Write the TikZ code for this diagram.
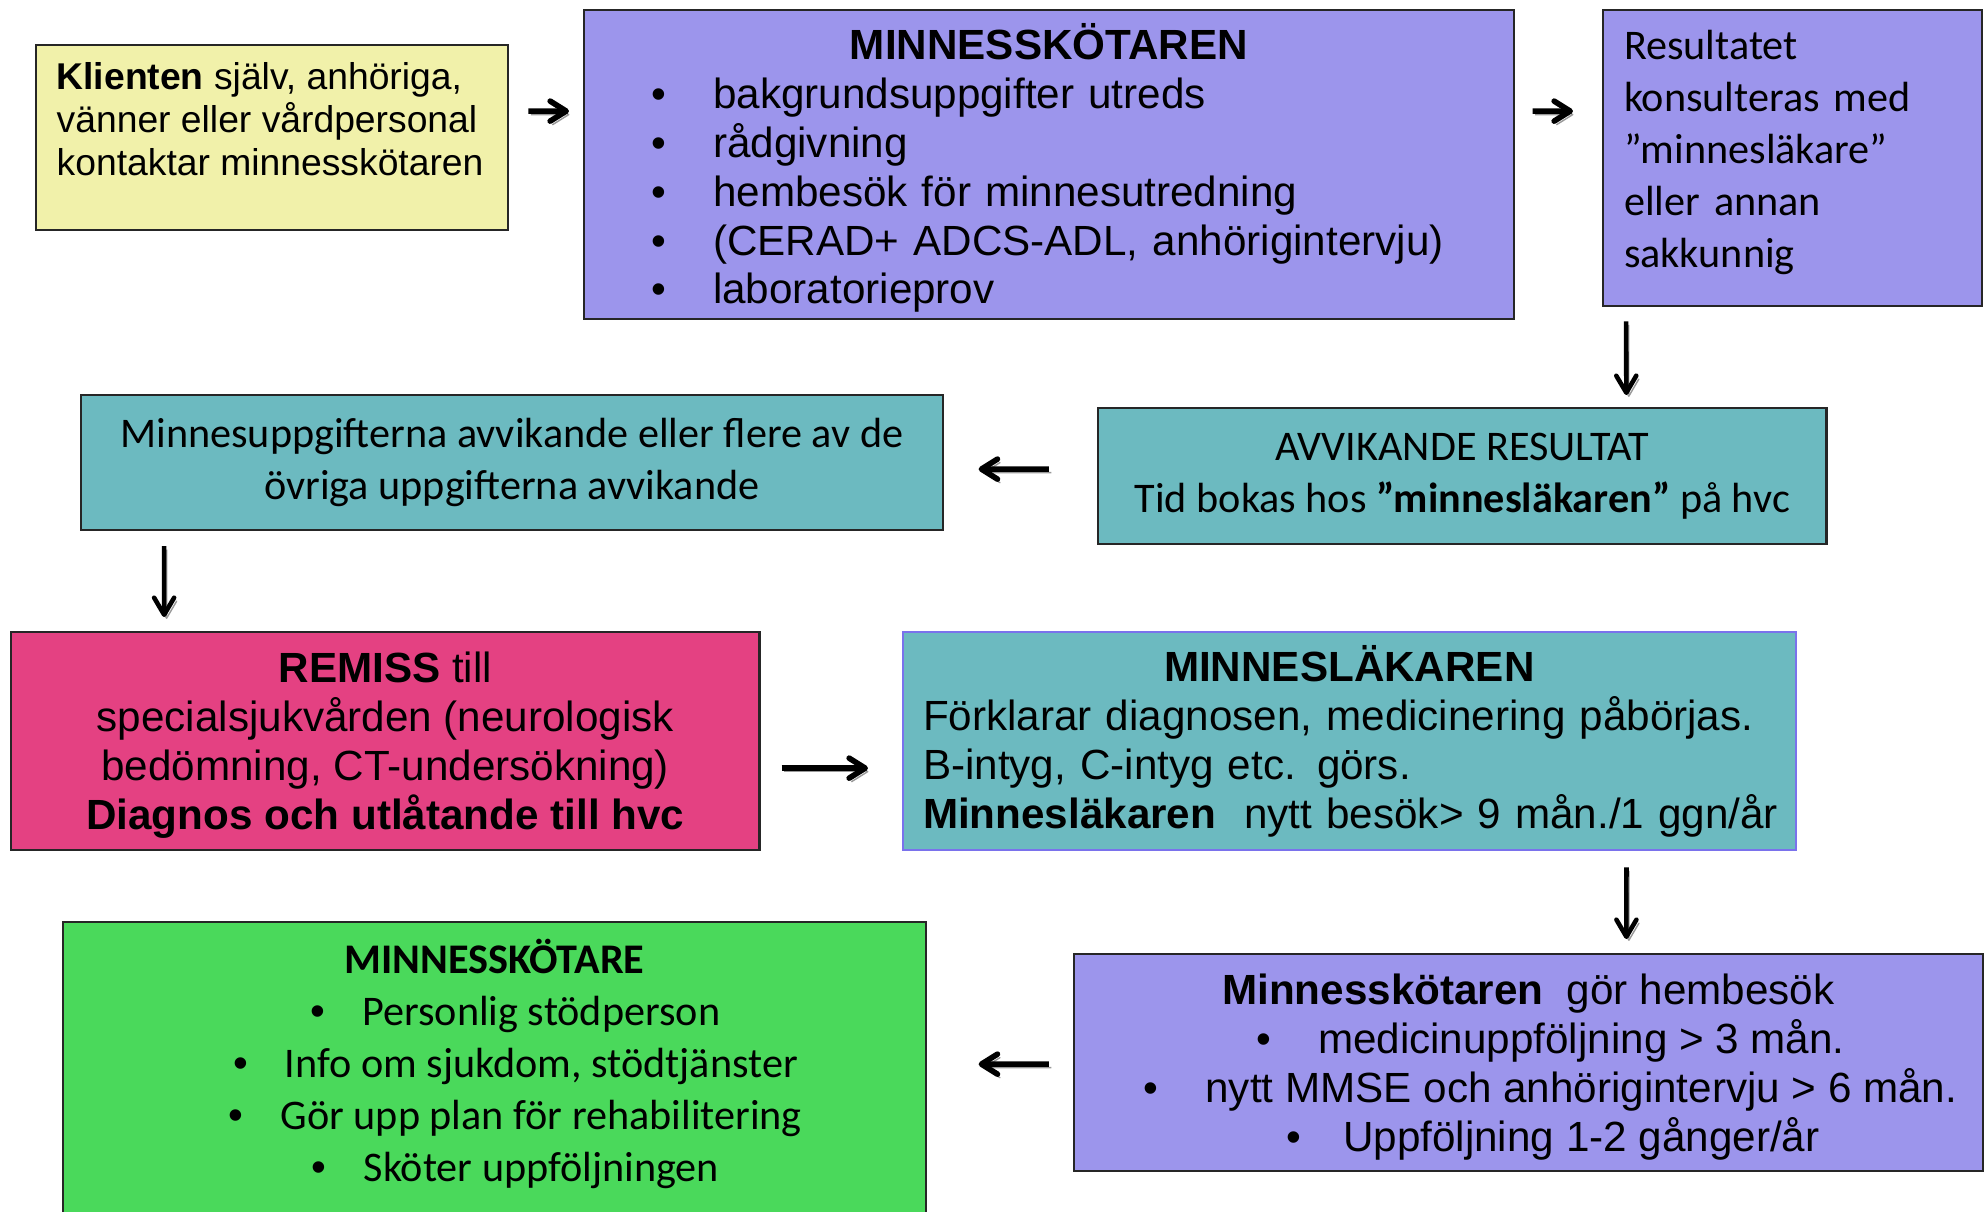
\documentclass[tikz,border=0pt]{standalone}
\usepackage{fontspec}
\setmainfont{Liberation Sans}
\newfontfamily\calibri{Carlito}
\usetikzlibrary{arrows.meta,calc}
\definecolor{MinnGul}{HTML}{F1F1AA}
\definecolor{MinnLila}{HTML}{9C95EC}
\definecolor{MinnTurkos}{HTML}{6CBAC0}
\definecolor{MinnRosa}{HTML}{E44182}
\definecolor{MinnGron}{HTML}{4AD95B}
\definecolor{MinnKant}{HTML}{7A72EC}
% bullet line: indent, bullet hung left of the text
\newcommand{\pkt}[3]{\hspace*{#1}\llap{{\rmfamily •}\hspace{#2}}\mbox{#3}}
% struts that move the text block of a box up or down
\newcommand{\topp}[1]{\rule{0pt}{#1}}
\newcommand{\botten}[1]{\rule[-#1]{0pt}{0pt}}

\begin{document}
\begin{tikzpicture}[x=0.01cm,y=-0.01cm,
    ruta/.style={draw=black!85,line width=0.6pt,anchor=north west,inner sep=0pt},
    arialtext/.style={font=\fontsize{12}{13.9}\selectfont},
    calibritext/.style={font=\calibri\fontsize{12}{14.8}\selectfont},
    skugga/.style={preaction={draw=black!40,transform canvas={shift={(0.25mm,-0.35mm)}}}},
    pilH/.style={skugga,line width=1.6pt,-{Straight Barb[length=1.6mm,width=2mm,round]}},
    pilV/.style={skugga,line width=1.3pt,-{Straight Barb[length=1.7mm,width=2mm,round]}}]
  \useasboundingbox[fill=white] (0,0) rectangle (1984,1211);

  % first row
  \node[ruta,fill=MinnGul,minimum width=4.72cm,minimum height=1.85cm] (klient) at (35,44) {};
  \node[anchor=west,inner sep=0pt,align=left,font=\fontsize{10.6}{12.2}\selectfont]
    (klient-txt) at (56,119) {\textbf{Klienten} själv, anhöriga,\\ vänner eller vårdpersonal\\ kontaktar minnesskötaren};
  \node[ruta,fill=MinnLila,text width=7.77cm,inner xsep=0.76cm,minimum height=3.09cm,
    align=left,arialtext] (minn) at (583,9)
    {\topp{12.2pt}\makebox[7.77cm]{\textbf{MINNESSKÖTAREN}}\\
     \pkt{0.53cm}{0.47cm}{bakgrundsuppgifter utreds}\\
     \pkt{0.53cm}{0.47cm}{rådgivning}\\
     \pkt{0.53cm}{0.47cm}{hembesök för minnesutredning}\\
     \pkt{0.53cm}{0.47cm}{(CERAD+ ADCS-ADL, anhörigintervju)}\\
     \pkt{0.53cm}{0.47cm}{laboratorieprov}};
  \node[ruta,fill=MinnLila,text width=3.37cm,inner xsep=0.21cm,minimum height=2.96cm,
    align=left,calibritext] (resultat) at (1602,9)
    {Resultatet\\ konsulteras med\\ ”minnesläkare”\\ eller annan\\ sakkunnig\botten{5.4pt}};

  % second row
  \node[ruta,fill=MinnTurkos,minimum width=7.28cm,minimum height=1.36cm,
    align=center,calibritext] (avv) at (1097,407)
    {AVVIKANDE RESULTAT\\ Tid bokas hos \textbf{”minnesläkaren”} på hvc};
  \node[ruta,fill=MinnTurkos,minimum width=8.61cm,minimum height=1.35cm,
    align=center,calibritext] (upp) at (80,394)
    {Minnesuppgifterna avvikande eller flere av de\\ övriga uppgifterna avvikande};

  % third row
  \node[ruta,fill=MinnRosa,minimum width=7.48cm,minimum height=2.18cm,
    align=center,arialtext] (remiss) at (10,631)
    {\topp{10.9pt}\textbf{REMISS} till\\ specialsjukvården (neurologisk\\ bedömning, CT-undersökning)\\
     \textbf{Diagnos och utlåtande till hvc}};
  \node[ruta,draw=MinnKant,fill=MinnTurkos,text width=8.52cm,inner xsep=0.2cm,
    minimum height=2.18cm,align=left,arialtext] (lak) at (902,631)
    {\makebox[8.52cm]{\textbf{MINNESLÄKAREN}}\\
     \mbox{Förklarar diagnosen, medicinering påbörjas.}\\
     B-intyg, C-intyg etc. görs.\\
     \mbox{\textbf{Minnesläkaren}\ \ nytt besök> 9 mån./1 ggn/år}};

  % fourth row
  \node[ruta,fill=MinnLila,minimum width=9.08cm,minimum height=2.17cm,
    align=center,arialtext] (hem) at (1073,953)
    {\topp{11.4pt}\textbf{Minnesskötaren}\ \ gör hembesök\\
     \pkt{1.06cm}{0.47cm}{medicinuppföljning > 3 mån.}\\
     \pkt{1.06cm}{0.47cm}{nytt MMSE och anhörigintervju > 6 mån.}\\
     \pkt{1.06cm}{0.42cm}{Uppföljning 1-2 gånger/år}};
  \node[ruta,fill=MinnGron,minimum width=8.62cm,minimum height=2.95cm,
    align=center,calibritext] (gron) at (62,921)
    {\textbf{MINNESSKÖTARE}\\
     \pkt{0.94cm}{0.37cm}{Personlig stödperson}\\
     \pkt{0.94cm}{0.37cm}{Info om sjukdom, stödtjänster}\\
     \pkt{0.94cm}{0.37cm}{Gör upp plan för rehabilitering}\\
     \pkt{0.94cm}{0.37cm}{Sköter uppföljningen}\botten{5.4pt}};

  % arrows
  \draw[pilH,shorten <=1.9mm,shorten >=1.4mm]
    ([yshift=2.65mm]klient.east) -- ([yshift=5.35mm]minn.west);
  \draw[pilH,shorten <=1.8mm,shorten >=2.9mm]
    ([yshift=5.35mm]minn.east) -- ([yshift=4.7mm]resultat.west);
  \draw[pilV,shorten <=1.4mm,shorten >=1.2mm]
    ([xshift=-16.65mm]resultat.south) -- ([xshift=16.4mm]avv.north);
  \draw[pilH,shorten <=4.8mm,shorten >=3.5mm]
    ([yshift=0.7mm]avv.west) -- ([yshift=-0.65mm]upp.east);
  \draw[pilV,shorten <=1.5mm,shorten >=1.4mm]
    ([xshift=-34.75mm]upp.south) -- ([xshift=-22.1mm]remiss.north);
  \draw[pilH,shorten <=2.1mm,shorten >=3.4mm]
    ([yshift=-2.7mm]remiss.east) -- ([yshift=-2.7mm]lak.west);
  \draw[pilV,shorten <=1.6mm,shorten >=1.4mm]
    ([xshift=27.7mm]lak.south) -- ([xshift=9.8mm]hem.north);
  \draw[pilH,shorten <=2.4mm,shorten >=5.2mm]
    ([yshift=-0.15mm]hem.west) -- ([yshift=0.55mm]gron.east);
\end{tikzpicture}
\end{document}
